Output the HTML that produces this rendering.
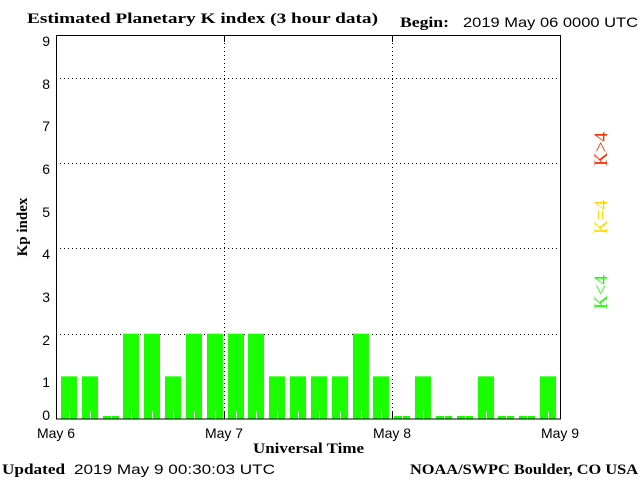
<!DOCTYPE html>
<html><head><meta charset="utf-8"><style>
html,body{margin:0;padding:0;background:#fff;}
svg{display:block;}
.t{font-family:"Liberation Serif",serif;font-weight:bold;font-size:15px;}
.s{font-family:"Liberation Sans",sans-serif;font-size:14px;}
</style></head><body>
<svg width="640" height="480" xmlns="http://www.w3.org/2000/svg">
<rect width="640" height="480" fill="#fff"/>
<text x="27" y="23" class="t" textLength="351" lengthAdjust="spacingAndGlyphs">Estimated Planetary K index (3 hour data)</text>
<text x="400" y="27" class="t" textLength="49" lengthAdjust="spacingAndGlyphs">Begin:</text>
<text x="463" y="27" class="s" textLength="175" lengthAdjust="spacingAndGlyphs">2019 May 06 0000 UTC</text>
<g stroke="#000" stroke-width="1" stroke-dasharray="1,3">
<line x1="56" x2="560" y1="78.5" y2="78.5"/>
<line x1="56" x2="560" y1="163.5" y2="163.5"/>
<line x1="56" x2="560" y1="248.5" y2="248.5"/>
<line x1="56" x2="560" y1="334.5" y2="334.5"/>
<line x1="224.5" x2="224.5" y1="35" y2="419"/>
<line x1="392.5" x2="392.5" y1="35" y2="419"/>
</g>
<g id="bars" fill="#1aff00"></g>
<rect x="56.5" y="35.5" width="504" height="383.5" fill="none" stroke="#000"/>
<g stroke="#000">
<line x1="224.5" x2="224.5" y1="35" y2="42"/><line x1="392.5" x2="392.5" y1="35" y2="42"/>
<line x1="224.5" x2="224.5" y1="412" y2="419"/><line x1="392.5" x2="392.5" y1="412" y2="419"/>
</g>
<g class="s" text-anchor="end" font-size="15">
<text x="50" y="46">9</text><text x="50" y="89">8</text><text x="50" y="131">7</text>
<text x="50" y="174">6</text><text x="50" y="217">5</text><text x="50" y="259">4</text>
<text x="50" y="302">3</text><text x="50" y="345">2</text><text x="50" y="387">1</text>
<text x="50" y="420">0</text>
</g>
<g class="s" text-anchor="middle">
<text x="56" y="438">May 6</text><text x="224" y="438">May 7</text>
<text x="392" y="438">May 8</text><text x="560" y="438">May 9</text>
</g>
<text x="253" y="453" class="t" textLength="111" lengthAdjust="spacingAndGlyphs">Universal Time</text>
<text x="0" y="0" class="t" transform="translate(27,227) rotate(-90)" text-anchor="middle">Kp index</text>
<g font-family="Liberation Serif,serif" font-size="19" text-anchor="middle">
<text transform="translate(607,149) rotate(-90)" fill="#ff2a00">K&gt;4</text>
<text transform="translate(607,217) rotate(-90)" fill="#ffd700">K=4</text>
<text transform="translate(607,292) rotate(-90)" fill="#1aff00">K&lt;4</text>
</g>
<text x="2" y="474" class="t" textLength="63" lengthAdjust="spacingAndGlyphs">Updated</text>
<text x="74" y="474" class="s" textLength="201" lengthAdjust="spacingAndGlyphs">2019 May  9 00:30:03 UTC</text>
<text x="410" y="474" class="t" textLength="228" lengthAdjust="spacingAndGlyphs">NOAA/SWPC Boulder, CO USA</text>
</svg>
<script>
var v=[1,1,0,2,2,1,2,2,2,2,1,1,1,1,2,1,0,1,0,0,1,0,0,1];
var g=document.getElementById('bars'),s="";
for(var i=0;i<24;i++){var x=Math.round(61+20.83*i);var h=v[i]?v[i]*42.67:3;var y=419-h;
s+='<rect x="'+x+'" y="'+y+'" width="16" height="'+h+'"/>';
s+='<rect x="'+(x+8)+'" y="'+(v[i]?411:415.5)+'" width="1" height="'+(v[i]?8:3.5)+'" fill="#fff"/>';}
g.innerHTML=s;
</script>
</body></html>
